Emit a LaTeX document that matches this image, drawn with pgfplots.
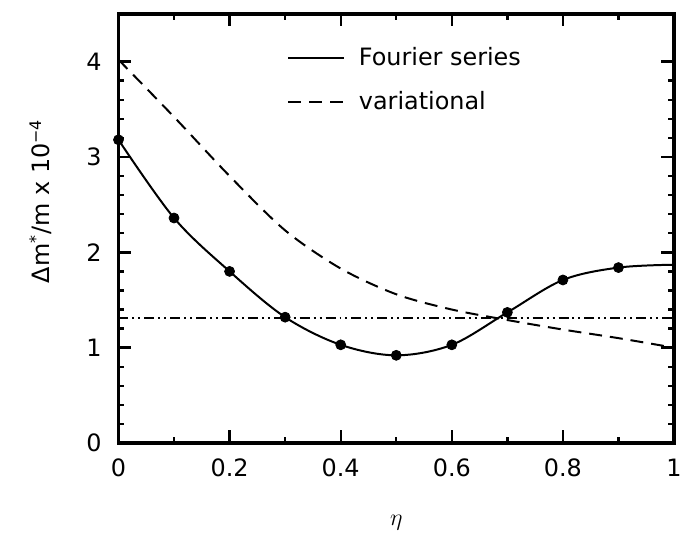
\documentclass[border=0pt]{standalone}
\usepackage{pgfplots}
\pgfplotsset{compat=1.18}
\usepackage{fontspec}
\setmainfont{DejaVu Sans}
\begin{document}
\begin{tikzpicture}
\begin{axis}[
  scale only axis, width=279pt, height=215.5pt,
  xmin=0, xmax=1, ymin=0, ymax=4.5,
  xtick={0,0.2,0.4,0.6,0.8,1}, minor x tick num=1,
  ytick={0,1,2,3,4}, minor y tick num=4,
  tick align=inside, major tick length=6.3pt, minor tick length=3pt,
  axis line style={line width=1.8pt},
  every tick/.style={black, line width=1.2pt},
  tick label style={font=\fontsize{12}{14}\selectfont},
  /pgf/number format/assume math mode=true,
  yticklabel style={xshift=-5pt},
  xticklabel style={yshift=-4.5pt},
  xlabel={$\eta$},
  xlabel style={at={([yshift=-40pt]axis description cs:0.5,0)}, anchor=center, font=\fontsize{13}{15}\selectfont},
  ylabel={Δm\textsuperscript{*}/m x 10\textsuperscript{−4}},
  ylabel style={at={([xshift=-34.5pt]axis description cs:0,0.564)}, anchor=base, rotate=0, font=\fontsize{12}{14}\selectfont},
  legend style={at={(axis cs:0.303,4.23)}, anchor=north west, draw=none, fill=none,
    font=\fontsize{12}{14}\selectfont, row sep=4.5pt, column sep=3.5pt, inner sep=0pt,
    nodes={inner sep=3.5pt}},
  legend cell align=left,
  legend image code/.code={\draw[#1] (0pt,0pt) -- (28pt,0pt);},
]
\addplot[black, line width=1pt, smooth, tension=0.55, mark=none] coordinates {
  (0,3.18) (0.1,2.36) (0.2,1.80) (0.3,1.32) (0.4,1.03) (0.5,0.92)
  (0.6,1.03) (0.7,1.37) (0.8,1.71) (0.9,1.84) (1.0,1.87)
};
\addlegendentry{Fourier series}
\addplot[black, only marks, mark=*, mark size=2.5pt, forget plot] coordinates {
  (0,3.18) (0.1,2.36) (0.2,1.80) (0.3,1.32) (0.4,1.03) (0.5,0.92)
  (0.6,1.03) (0.7,1.37) (0.8,1.71) (0.9,1.84)
};
\addplot[black, line width=1pt, smooth, dash pattern=on 6.5pt off 4pt] coordinates {
  (0,4.02) (0.1,3.42) (0.2,2.80) (0.3,2.23) (0.4,1.83) (0.5,1.56)
  (0.6,1.40) (0.7,1.29) (0.8,1.19) (0.9,1.10) (1.0,1.00)
};
\addlegendentry{variational}
\addplot[black, line width=1pt, forget plot, dash pattern=on 5pt off 2pt on 1pt off 2pt on 1pt off 2pt] coordinates {
  (0,1.31) (1,1.31)
};
\end{axis}
\pgfresetboundingbox
\path[use as bounding box] ([shift={(-59.5pt,-46.5pt)}]current axis.south west) rectangle ([shift={(3pt,7pt)}]current axis.north east);
\end{tikzpicture}
\end{document}
